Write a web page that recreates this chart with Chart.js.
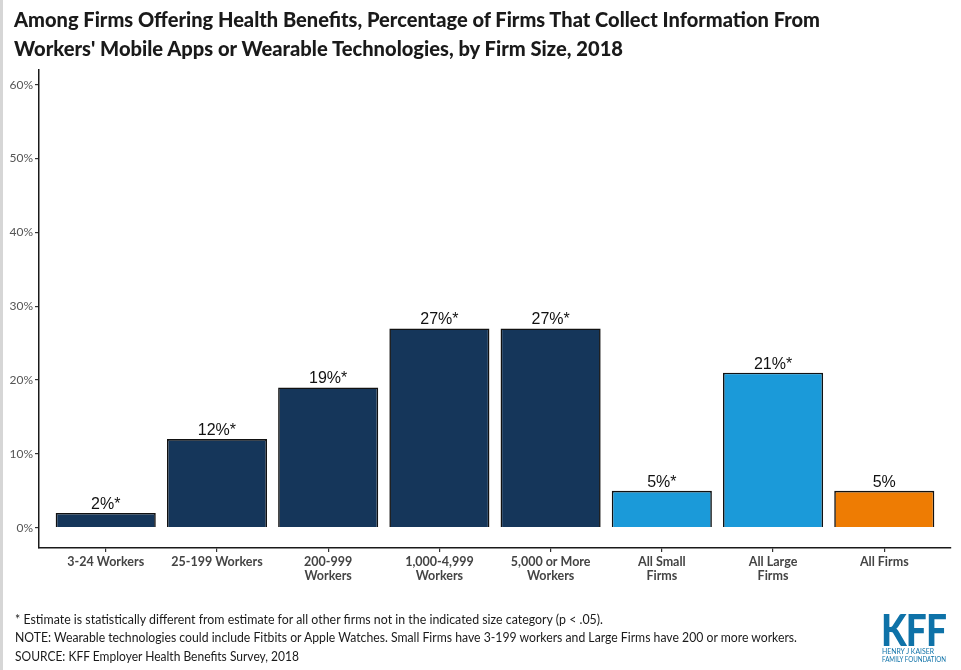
<!DOCTYPE html>
<html>
<head>
<meta charset="utf-8">
<script src="https://cdn.jsdelivr.net/npm/chart.js@4.4.0/dist/chart.umd.min.js"></script>
<style>
  html, body { margin:0; padding:0; background:#fff; }
  #wrap { position:relative; width:961px; height:670px; overflow:hidden; }
  #strip { position:absolute; left:0; top:0; width:3px; height:670px; background:#d6d6d6; }
  canvas { position:absolute; left:0; top:0; }
  .fit { position:absolute; white-space:nowrap; transform-origin:0 0; }
  .title { font-family:'Lato', sans-serif; font-weight:900; font-size:20px; color:#1a1a1a; }
  .note { font-family:'Lato', sans-serif; font-size:12.5px; color:#1a1a1a; }
  .kff { font-family:'Lato', sans-serif; font-weight:900; color:#0e72a8; }
</style>
</head>
<body>
<div id="wrap">
  <div id="strip"></div>
  <canvas id="c" width="961" height="670"></canvas>
  <div class="fit title" style="left:14px; top:7px;" data-w="806">Among Firms Offering Health Benefits, Percentage of Firms That Collect Information From</div>
  <div class="fit title" style="left:14px; top:36px;" data-w="609">Workers' Mobile Apps or Wearable Technologies, by Firm Size, 2018</div>
  <div class="fit note" style="left:15px; top:612px;" data-w="588">* Estimate is statistically different from estimate for all other firms not in the indicated size category (p &lt; .05).</div>
  <div class="fit note" style="left:15px; top:630px;" data-w="782">NOTE: Wearable technologies could include Fitbits or Apple Watches. Small Firms have 3-199 workers and Large Firms have 200 or more workers.</div>
  <div class="fit note" style="left:15px; top:649px;" data-w="284">SOURCE: KFF Employer Health Benefits Survey, 2018</div>
  <div class="fit kff" style="left:881px; top:604px; font-size:43px; letter-spacing:-1px;" data-w="65">KFF</div>
  <div class="fit kff" style="left:882px; top:647px; font-size:7px; font-weight:400;" data-w="52">HENRY J KAISER</div>
  <div class="fit kff" style="left:882px; top:655px; font-size:7px; font-weight:400;" data-w="64">FAMILY FOUNDATION</div>
</div>
<script>
const categories = [
  ["3-24 Workers"],
  ["25-199 Workers"],
  ["200-999", "Workers"],
  ["1,000-4,999", "Workers"],
  ["5,000 or More", "Workers"],
  ["All Small", "Firms"],
  ["All Large", "Firms"],
  ["All Firms"]
];
const values = [2, 12, 19, 27, 27, 5, 21, 5];
const significant = [true, true, true, true, true, true, true, false];
const barColors = ["#15365a", "#15365a", "#15365a", "#15365a", "#15365a", "#1b9ad9", "#1b9ad9", "#ee7c03"];
const yTicks = [0, 10, 20, 30, 40, 50, 60];

// fit text lines to reference widths
document.querySelectorAll('.fit').forEach(el => {
  const w = el.getBoundingClientRect().width;
  const target = parseFloat(el.dataset.w);
  if (w > 0) el.style.transform = 'scaleX(' + (target / w) + ')';
});

const valueLabels = {
  id: 'valueLabels',
  afterDatasetsDraw(chart) {
    const ctx = chart.ctx;
    const meta = chart.getDatasetMeta(0);
    ctx.save();
    ctx.font = '16px "Liberation Sans", Arial, sans-serif';
    ctx.fillStyle = '#111111';
    ctx.textAlign = 'center';
    ctx.textBaseline = 'alphabetic';
    meta.data.forEach((el, i) => {
      const txt = values[i] + '%' + (significant[i] ? '*' : '');
      ctx.fillText(txt, el.x, el.y - 4);
    });
    ctx.restore();
  }
};

new Chart(document.getElementById('c'), {
  type: 'bar',
  data: {
    datasets: [{
      data: values.map((v, i) => ({ x: i, y: v })),
      backgroundColor: barColors,
      borderColor: '#111111',
      borderWidth: 1.6,
      categoryPercentage: 0.9,
      barPercentage: 1.0
    }]
  },
  options: {
    responsive: false,
    animation: false,
    layout: { padding: { top: 70, right: 10, left: 0, bottom: 0 } },
    plugins: { legend: { display: false }, tooltip: { enabled: false }, title: { display: false } },
    scales: {
      x: {
        type: 'linear',
        offset: false,
        min: -0.6,
        max: 7.6,
        afterBuildTicks(scale) { scale.ticks = categories.map((c, i) => ({ value: i })); },
        afterFit(scale) { scale.height = 122; },
        grid: { offset: false, drawOnChartArea: false, drawTicks: true, tickLength: 4, color: '#333', lineWidth: 1.2 },
        border: { display: true, color: '#1a1a1a', width: 1.5 },
        ticks: {
          autoSkip: false,
          maxRotation: 0,
          padding: 3,
          color: '#444444',
          font: { family: 'Lato', weight: 'bold', size: 12.5, lineHeight: 1.12 },
          callback: (v) => categories[Math.round(v)]
        }
      },
      y: {
        min: -2.75,
        max: 62,
        afterBuildTicks(scale) { scale.ticks = yTicks.map(v => ({ value: v })); },
        afterFit(scale) { scale.width = 39; },
        grid: { drawOnChartArea: false, drawTicks: true, tickLength: 4, color: '#333', lineWidth: 1.2 },
        border: { display: true, color: '#1a1a1a', width: 1.5 },
        ticks: {
          padding: 2,
          color: '#555555',
          font: { family: 'Lato', size: 12 },
          callback: (v) => v + '%'
        }
      }
    }
  },
  plugins: [valueLabels]
});
</script>
</body>
</html>
